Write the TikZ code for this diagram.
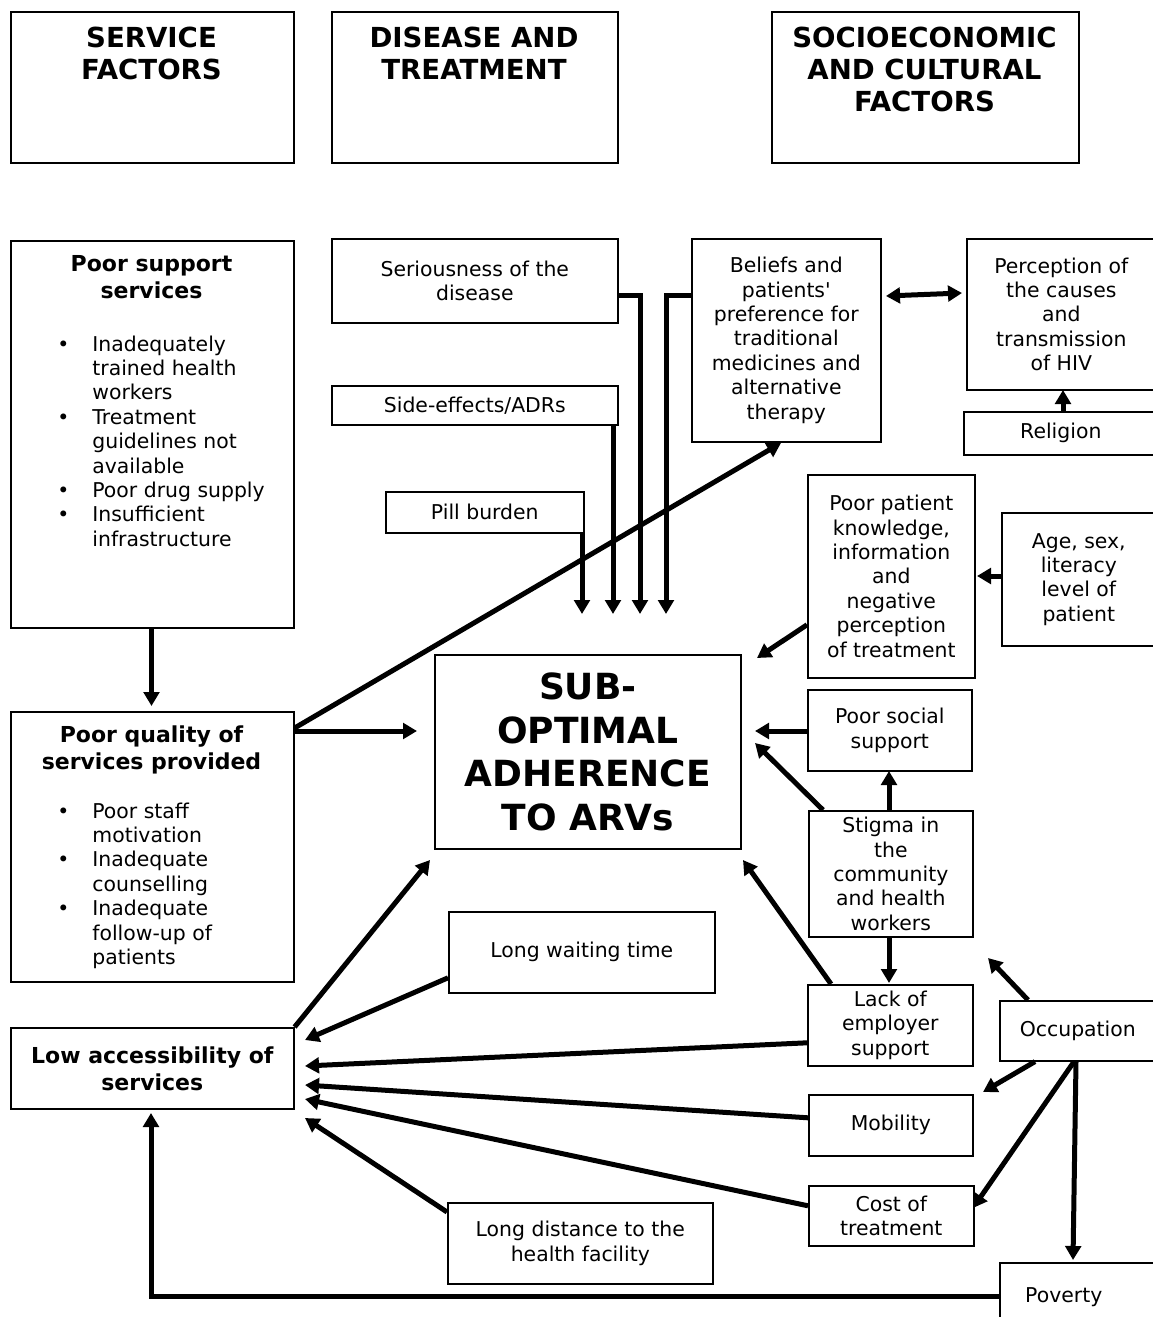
\documentclass[tikz,border=0pt]{standalone}
\usepackage{fontspec}
\setmainfont{DejaVu Sans}
\usetikzlibrary{arrows.meta,calc}
\newcommand\fs{\fontsize{10.2}{12.2}\selectfont}
\newcommand\fh{\fontsize{13.8}{16}\selectfont\bfseries}
\newcommand\fb{\fontsize{11}{13.5}\selectfont\bfseries}
\newcommand\fbig{\fontsize{18}{21.7}\selectfont\bfseries}
\newcommand\bx[7][]{\node[box,#1,minimum width={(#5-#3)*0.5pt},minimum height={(#6-#4)*0.5pt}] (#2) at (#3,#4) {#7};}
\begin{document}
\begin{tikzpicture}[x=0.5pt,y=-0.5pt,
  box/.style={draw,line width=0.8pt,inner sep=0pt,anchor=north west,align=center,font=\fs},
  ttl/.style={inner sep=0pt,anchor=north,align=center},
  arr/.style={line width=2.5pt,-{Triangle[length=7pt,width=7.8pt]}},
  darr/.style={line width=2.5pt,{Triangle[length=7pt,width=7.8pt]}-{Triangle[length=7pt,width=7.8pt]}}]
\useasboundingbox (0,0) rectangle (1152,1317);
% boxes
\bx{hserv}{10}{11}{293}{162}{}
\bx{hdis}{331}{11}{617}{162}{}
\bx{hsoc}{771}{11}{1078}{162}{}
\bx{support}{10}{240}{293}{627}{}
\bx{serious}{331}{238}{617}{322}{Seriousness of the\\disease}
\bx{beliefs}{691}{238}{880}{441}{Beliefs and\\patients\textquotesingle\\preference for\\traditional\\medicines and\\alternative\\therapy}
\bx{percep}{966}{238}{1155}{389}{Perception of\\the causes\\and\\transmission\\of HIV}
\bx{sidefx}{331}{385}{617}{424}{Side-effects/ADRs}
\bx{religion}{963}{411}{1157}{454}{Religion}
\bx{pill}{385}{491}{583}{532}{Pill burden}
\bx{know}{807}{474}{974}{677}{Poor patient\\knowledge,\\information\\and\\negative\\perception\\of treatment}
\bx{age}{1001}{512}{1155}{645}{Age, sex,\\literacy\\level of\\patient}
\bx[font=\fbig]{sub}{434}{654}{740}{848}{SUB-\\OPTIMAL\\ADHERENCE\\TO ARVs}
\bx{social}{807}{689}{971}{770}{Poor social\\support}
\bx{quality}{10}{711}{293}{981}{}
\bx{stigma}{808}{810}{972}{936}{Stigma in\\the\\community\\and health\\workers}
\bx{wait}{448}{911}{714}{992}{Long waiting time}
\bx{lackemp}{807}{984}{972}{1065}{Lack of\\employer\\support}
\bx{occ}{999}{1000}{1155}{1060}{Occupation}
\bx[font=\fb]{lowacc}{10}{1027}{293}{1108}{Low accessibility of\\services}
\bx{mobility}{808}{1094}{972}{1155}{Mobility}
\bx{cost}{808}{1185}{973}{1245}{Cost of\\treatment}
\bx{dist}{447}{1202}{712}{1283}{Long distance to the\\health facility}
\bx{poverty}{999}{1262}{1155}{1330}{Poverty\hspace{14pt}}
% titles
\node[ttl,font=\fh] (hservt) at (151.5,27) {SERVICE\\FACTORS};
\node[ttl,font=\fh] (hdist) at (474,27) {DISEASE AND\\TREATMENT};
\node[ttl,font=\fh] (hsoct) at (924.5,27) {SOCIOECONOMIC\\AND CULTURAL\\FACTORS};
\node[ttl,font=\fb] (supt) at (151.5,255) {Poor support\\services};
\node[ttl,font=\fb] (qualt) at (151.5,725) {Poor quality of\\services provided};
\node[inner sep=0pt,anchor=base west,font=\fs] (supl) at (57,351) {\begin{tabular}[t]{@{}p{17.5pt}@{}l@{}}
\textbullet & Inadequately\\ & trained health\\ & workers\\
\textbullet & Treatment\\ & guidelines not\\ & available\\
\textbullet & Poor drug supply\\
\textbullet & Insufficient\\ & infrastructure\end{tabular}};
\node[inner sep=0pt,anchor=base west,font=\fs] (quall) at (57,818) {\begin{tabular}[t]{@{}p{17.5pt}@{}l@{}}
\textbullet & Poor staff\\ & motivation\\
\textbullet & Inadequate\\ & counselling\\
\textbullet & Inadequate\\ & follow-up of\\ & patients\end{tabular}};
% arrow tips
\coordinate (t1) at (640,614);
\coordinate (t2) at (666,614);
\coordinate (t3) at (613,614);
\coordinate (t4) at (582,614);
\coordinate (t5) at (781,443);
\coordinate (t6) at (417,731);
\coordinate (t7) at (151.5,706);
\coordinate (t8a) at (886,296);
\coordinate (t8b) at (962,293);
\coordinate (t9) at (1063,390);
\coordinate (t10) at (977,576);
\coordinate (t11) at (757,658);
\coordinate (t12) at (755,731);
\coordinate (t13) at (889,771);
\coordinate (t14) at (755,743);
\coordinate (t15) at (889,983);
\coordinate (t16) at (743,860);
\coordinate (t17) at (988,958);
\coordinate (t18) at (983,1092);
\coordinate (t19) at (973,1208);
\coordinate (t20) at (1073,1260);
\coordinate (t21) at (151,1113);
\coordinate (t22) at (305,1066);
\coordinate (t23) at (305,1085);
\coordinate (t24) at (305,1099);
\coordinate (t25) at (305,1118);
\coordinate (t26) at (305,1040);
\coordinate (t27) at (430,860);
% connectors
\draw[arr] ([yshift=-7.5pt]serious.east) -| (t1);
\draw[arr] ([yshift=22.25pt]beliefs.west) -| (t2);
\draw[arr] (sidefx.south -| t3) -- (t3);
\draw[arr] (pill.south -| t4) -- (t4);
\draw[arr] ([yshift=-8.5pt]quality.north east) -- (t5);
\draw[arr] (quality.east |- t6) -- (t6);
\draw[arr] (support.south -| t7) -- (t7);
\draw[darr] (t8a) -- (t8b);
\draw[arr] (religion.north -| t9) -- (t9);
\draw[arr] (age.west |- t10) -- (t10);
\draw[arr] ([yshift=-24.25pt]know.west) -- (t11);
\draw[arr] (social.west |- t12) -- (t12);
\draw[arr] (stigma.north -| t13) -- (t13);
\draw[arr] ([xshift=7.5pt]stigma.north west) -- (t14);
\draw[arr] (stigma.south -| t15) -- (t15);
\draw[arr] ([xshift=12pt]lackemp.north west) -- (t16);
\draw[arr] ([xshift=14.5pt]occ.north west) -- (t17);
\draw[arr] ([xshift=18pt]occ.south west) -- (t18);
\draw[arr] ([xshift=37.5pt]occ.south west) -- (t19);
\draw[arr] ([xshift=38.5pt]occ.south west) -- (t20);
\draw[arr] (poverty.west) -| (t21);
\draw[arr] ([yshift=-8.75pt]lackemp.west) -- (t22);
\draw[arr] ([yshift=3.75pt]mobility.west) -- (t23);
\draw[arr] ([yshift=5pt]cost.west) -- (t24);
\draw[arr] ([yshift=-5pt]dist.north west) -- (t25);
\draw[arr] ([yshift=-12.75pt]wait.west) -- (t26);
\draw[arr] (lowacc.north east) -- (t27);
\end{tikzpicture}
\end{document}
